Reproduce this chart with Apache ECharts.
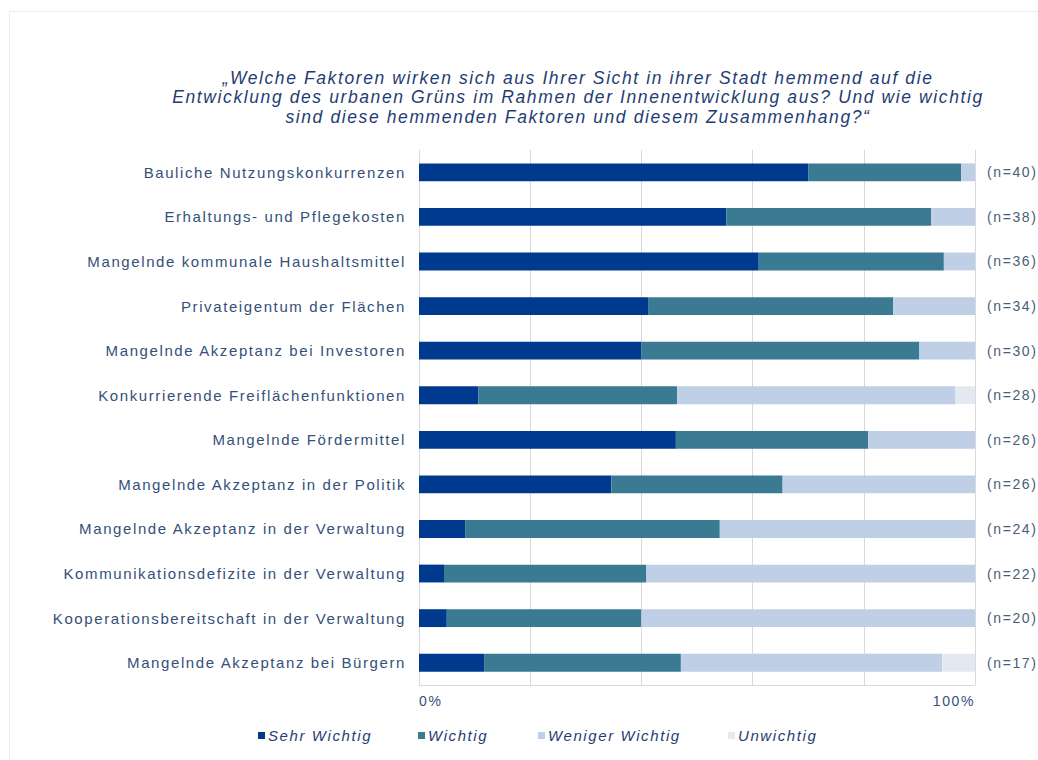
<!DOCTYPE html>
<html>
<head>
<meta charset="utf-8">
<script src="https://cdn.jsdelivr.net/npm/echarts@6/dist/echarts.min.js"></script>
<style>html,body{margin:0;padding:0;background:#fff}#c{width:1038px;height:760px}#c text{letter-spacing:1.6px}</style>
</head>
<body>
<div id="c"></div>
<script>
const categories = [
  'Bauliche Nutzungskonkurrenzen',
  'Erhaltungs- und Pflegekosten',
  'Mangelnde kommunale Haushaltsmittel',
  'Privateigentum der Flächen',
  'Mangelnde Akzeptanz bei Investoren',
  'Konkurrierende Freiflächenfunktionen',
  'Mangelnde Fördermittel',
  'Mangelnde Akzeptanz in der Politik',
  'Mangelnde Akzeptanz in der Verwaltung',
  'Kommunikationsdefizite in der Verwaltung',
  'Kooperationsbereitschaft in der Verwaltung',
  'Mangelnde Akzeptanz bei Bürgern'
];
const nLabels = ['(n=40)','(n=38)','(n=36)','(n=34)','(n=30)','(n=28)','(n=26)','(n=26)','(n=24)','(n=22)','(n=20)','(n=17)'];
const sehrWichtig     = [70.0, 55.3, 61.1, 41.2, 40.0, 10.7, 46.2, 34.6,  8.3,  4.5,  5.0, 11.8];
const wichtig         = [27.5, 36.8, 33.3, 44.1, 50.0, 35.7, 34.6, 30.8, 45.8, 36.4, 35.0, 35.3];
const wenigerWichtig  = [ 2.5,  7.9,  5.6, 14.7, 10.0, 50.0, 19.2, 34.6, 45.9, 59.1, 60.0, 47.0];
const unwichtig       = [ 0,    0,    0,    0,    0,    3.6,  0,    0,    0,    0,    0,    5.9];
const seriesNames = ['Sehr Wichtig', 'Wichtig', 'Weniger Wichtig', 'Unwichtig'];
const xTicks = [0, 20, 40, 60, 80, 100];

const FONT = '"Liberation Sans", Arial, sans-serif';
const chart = echarts.init(document.getElementById('c'), null, {renderer: 'svg'});
function bar(name, data, color) {
  return {
    name, type: 'bar', stack: 'total', data, barWidth: '40%',
    itemStyle: {color}, emphasis: {disabled: true}, silent: true
  };
}
const legendLeft = [258, 418, 538, 728];
const legends = seriesNames.map((n, i) => ({
  left: legendLeft[i], top: 728, itemWidth: 7, itemHeight: 7, icon: 'rect', padding: 0,
  selectedMode: false,
  textStyle: {fontFamily: FONT, fontSize: 15, fontStyle: 'italic', color: '#1f3d73', padding: [0, 0, 0, -2]},
  data: [n]
}));
chart.setOption({
  animation: false,
  backgroundColor: '#fff',
  graphic: [{
    type: 'rect', shape: {x: 9.5, y: 11.5, width: 1100, height: 800},
    style: {fill: 'none', stroke: '#ececec', lineWidth: 1}, silent: true
  }],
  title: {
    text: '„Welche Faktoren wirken sich aus Ihrer Sicht in ihrer Stadt hemmend auf die\nEntwicklung des urbanen Grüns im Rahmen der Innenentwicklung aus? Und wie wichtig\nsind diese hemmenden Faktoren und diesem Zusammenhang?“',
    left: 573, top: 63, textAlign: 'center',
    textStyle: {fontFamily: FONT, fontSize: 17.5, fontStyle: 'italic', fontWeight: 'normal', color: '#1f3d73', lineHeight: 19.5}
  },
  legend: legends,
  grid: {left: 419, right: 63, top: 150, bottom: 75, containLabel: false},
  xAxis: {
    type: 'value', min: 0, max: 100, interval: 20,
    axisLine: {show: true, lineStyle: {color: '#d9d9d9'}},
    axisTick: {show: false},
    splitLine: {show: true, lineStyle: {color: '#d9d9d9'}},
    axisLabel: {
      fontFamily: FONT, fontSize: 14, color: '#34507a', margin: 9,
      alignMinLabel: 'left', alignMaxLabel: 'right',
      formatter: v => (v === xTicks[0] ? '0%' : (v === xTicks[xTicks.length - 1] ? '100%' : ''))
    }
  },
  yAxis: [{
    type: 'category', data: categories, inverse: true,
    axisLine: {show: false}, axisTick: {show: false},
    axisLabel: {fontFamily: FONT, fontSize: 15, color: '#34507a', margin: 13}
  }, {
    type: 'category', data: nLabels, inverse: true, position: 'right',
    axisLine: {show: false}, axisTick: {show: false},
    axisLabel: {fontFamily: FONT, fontSize: 14, color: '#4a5d78', margin: 12}
  }],
  series: [
    bar(seriesNames[0], sehrWichtig, '#003a8f'),
    bar(seriesNames[1], wichtig, '#3a7a92'),
    bar(seriesNames[2], wenigerWichtig, '#bfcfe6'),
    bar(seriesNames[3], unwichtig, '#e4e9f1')
  ]
});
</script>
</body>
</html>
